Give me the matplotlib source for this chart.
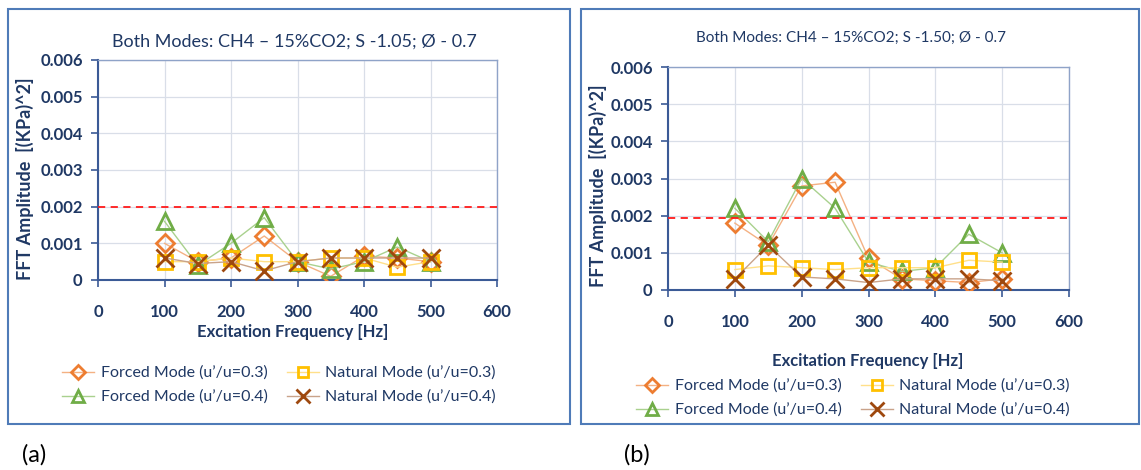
import matplotlib
matplotlib.use('Agg')
import matplotlib.pyplot as plt
from matplotlib.patches import Rectangle

plt.rcParams['font.family'] = ['Lato', 'DejaVu Sans']

# Data
freq = [100, 150, 200, 250, 300, 350, 400, 450, 500]

# panel (a): S = 1.05
a_forced_03 = [0.0010, 0.0005, 0.0006, 0.0012, 0.0005, 0.0001, 0.00065, 0.0006, 0.0005]
a_forced_04 = [0.0016, 0.0004, 0.0010, 0.0017, 0.0005, 0.0003, 0.0005, 0.0009, 0.0005]
a_natural_03 = [0.0005, 0.0005, 0.0006, 0.0005, 0.0005, 0.0006, 0.0006, 0.00035, 0.0005]
a_natural_04 = [0.0006, 0.00045, 0.0005, 0.00025, 0.0005, 0.0006, 0.0006, 0.0006, 0.0006]

# panel (b): S = 1.50
b_forced_03 = [0.0018, 0.0012, 0.0028, 0.0029, 0.00085, 0.0003, 0.00025, 0.0002, 0.0003]
b_forced_04 = [0.0022, 0.0013, 0.0030, 0.0022, 0.00075, 0.0005, 0.0006, 0.0015, 0.0010]
b_natural_03 = [0.00055, 0.00065, 0.0006, 0.00055, 0.0006, 0.0006, 0.0006, 0.0008, 0.00075]
b_natural_04 = [0.0003, 0.0012, 0.00035, 0.0003, 0.0002, 0.0003, 0.0003, 0.0003, 0.00025]

threshold_a = 0.002
threshold_b = 0.00195

titles = ['Both Modes: CH4 \u2013 15%CO2; S -1.05; \u00d8 - 0.7',
          'Both Modes: CH4 \u2013 15%CO2; S -1.50; \u00d8 - 0.7']
labels = ["Forced Mode (u\u2019/u=0.3)", "Natural Mode (u\u2019/u=0.3)",
          "Forced Mode (u\u2019/u=0.4)", "Natural Mode (u\u2019/u=0.4)"]

navy = '#1F3864'
styles = [
    dict(marker='D', color='#F4B183', mec='#ED7D31', ms=9),
    dict(marker='s', color='#FFE08A', mec='#FFC000', ms=10),
    dict(marker='^', color='#A9D18E', mec='#70AD47', ms=12),
    dict(marker='x', color='#C9A38A', mec='#9E480E', ms=13),
]

fig = plt.figure(figsize=(11.41, 4.70), dpi=100)
W, H = 1141, 470

# panel frames
for x0, x1 in [(8, 570), (581, 1139)]:
    fig.patches.append(Rectangle((x0 / W, 1 - 424 / H), (x1 - x0) / W, (424 - 9) / H,
                                 transform=fig.transFigure, fill=False,
                                 edgecolor='#4F7BB8', linewidth=1.5))

panels = [
    dict(box=(98, 60, 497, 280), data=[a_forced_03, a_natural_03, a_forced_04, a_natural_04],
         thr=threshold_a, title=titles[0], title_xy=(294, 42), title_size=13,
         xl_xy=(293, 332), leg_xy=(279, 385), ylab=(-0.160, 0.46), tag='(a)', tag_x=22),
    dict(box=(668, 67, 1069, 290), data=[b_forced_03, b_natural_03, b_forced_04, b_natural_04],
         thr=threshold_b, title=titles[1], title_xy=(851, 38), title_size=11,
         xl_xy=(868, 361), leg_xy=(853, 398), ylab=(-0.152, 0.466), tag='(b)', tag_x=624),
]

for p in panels:
    l, t, r, b = p['box']
    ax = fig.add_axes([l / W, 1 - b / H, (r - l) / W, (b - t) / H])
    handles = [None] * 4
    for i in [0, 2, 1, 3]:
        st = styles[i]
        h, = ax.plot(freq, p['data'][i], color=st['color'], linewidth=1,
                     marker=st['marker'], markersize=st['ms'], markerfacecolor='none',
                     markeredgecolor=st['mec'], markeredgewidth=2, zorder=3)
        handles[i] = h
    ax.axhline(p['thr'], color='#FF1A1A', linestyle=(0, (4, 3)), linewidth=1.3, zorder=4)
    ax.set_xlim(0, 600)
    ax.set_ylim(0, 0.006)
    ax.set_xticks(range(0, 601, 100))
    ax.set_yticks([0, 0.001, 0.002, 0.003, 0.004, 0.005, 0.006])
    ax.set_yticklabels(['0', '0.001', '0.002', '0.003', '0.004', '0.005', '0.006'])
    ax.grid(True, color='#D9DEE8', linewidth=0.9)
    ax.set_axisbelow(True)
    for s in ['top', 'right']:
        ax.spines[s].set_color('#8FA3C8')
        ax.spines[s].set_linewidth(1)
    for s in ['left', 'bottom']:
        ax.spines[s].set_color('#3B5A96')
        ax.spines[s].set_linewidth(1.5)
    ax.tick_params(axis='both', colors='#3B5A96', length=5, width=1.2, direction='out',
                   labelcolor=navy, labelsize=12)
    ax.tick_params(axis='x', pad=12)
    ax.tick_params(axis='y', pad=6)
    for lab in ax.get_xticklabels() + ax.get_yticklabels():
        lab.set_fontweight('bold')
    ax.set_ylabel('FFT Amplitude  [(KPa)^2]', color=navy, fontsize=13, fontweight='bold')
    ax.yaxis.set_label_coords(*p['ylab'])

    fig.text(p['title_xy'][0] / W, 1 - p['title_xy'][1] / H, p['title'], ha='center',
             va='center', color=navy, fontsize=p['title_size'])
    fig.text(p['xl_xy'][0] / W, 1 - p['xl_xy'][1] / H, 'Excitation Frequency [Hz]',
             ha='center', va='center', color=navy, fontsize=12, fontweight='bold')
    # legend fills by column: order so rows read Forced/Natural
    leg_h = [handles[0], handles[2], handles[1], handles[3]]
    leg_l = [labels[0], labels[2], labels[1], labels[3]]
    fig.legend(leg_h, leg_l, loc='center',
               bbox_to_anchor=(p['leg_xy'][0] / W, 1 - p['leg_xy'][1] / H),
               ncol=2, frameon=False, fontsize=11.5, labelcolor=navy, handlelength=2.0,
               columnspacing=1.2, handletextpad=0.4, labelspacing=0.6, markerscale=0.75)
    fig.text(p['tag_x'] / W, 1 - 455 / H, p['tag'], ha='left', va='center', color='black',
             fontsize=17)

fig.savefig('out.png', dpi=100)
